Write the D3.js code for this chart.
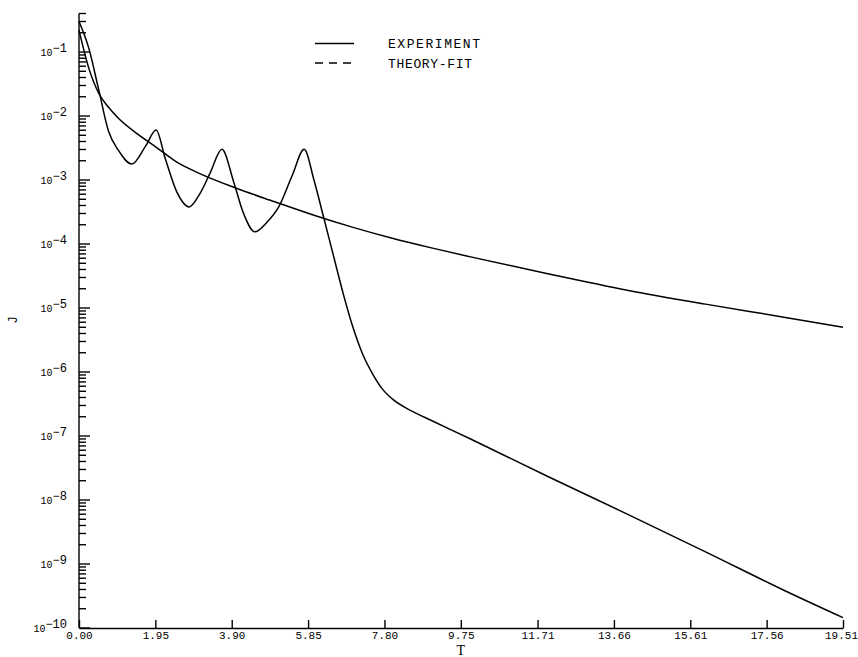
<!DOCTYPE html>
<html>
<head>
<meta charset="utf-8">
<script src="https://cdnjs.cloudflare.com/ajax/libs/d3/7.8.5/d3.min.js"></script>
<style>
  body { margin: 0; background: #fff; }
  svg { display: block; }
  .axis path, .axis line { stroke: #000; stroke-width: 1.4; }
  .axis text { font-family: "Liberation Mono", monospace; font-size: 11px; fill: #000; }
  .line { fill: none; stroke: #000; stroke-width: 1.5; }
</style>
</head>
<body>
<div id="chart"></div>
<script>
// experiment (oscillating curve)
var expT = [0, 0.25, 0.5, 0.75, 1.0, 1.35, 1.7, 1.97, 2.2, 2.5, 2.81, 3.1, 3.35, 3.65, 3.95, 4.2, 4.49, 4.8, 5.1, 5.45, 5.75,
    6.0, 6.25, 6.5, 6.75, 7.0, 7.25, 7.5, 7.75, 8.0, 8.5, 9.0, 10, 12, 14, 16, 18, 19.51]
var expJ = [3.0e-1, 1.15e-1, 2.63e-2, 5.89e-3, 2.95e-3, 1.78e-3, 3.39e-3, 6.03e-3, 2.19e-3, 6.46e-4, 3.80e-4, 6.31e-4, 1.29e-3,
    3.02e-3, 9.33e-4, 3.02e-4, 1.55e-4, 2.19e-4, 3.80e-4, 1.20e-3, 3.02e-3, 1.0e-3, 2.57e-4, 6.5e-5, 1.65e-5,
    4.9e-6, 1.86e-6, 9.3e-7, 5.4e-7, 3.8e-7, 2.45e-7, 1.75e-7, 8.97e-8, 2.29e-8, 6.03e-9, 1.55e-9, 3.89e-10, 1.45e-10]

// theory fit (smooth curve)
var fitT = [0, 0.25, 0.5, 0.75, 1.0, 1.5, 2.0, 2.5, 3.0, 4.0, 5.0, 6.0, 7.0, 8.0, 9.0, 10, 12, 14, 16, 18, 19.51]
var fitJ = [2.2e-1, 5.6e-2, 2.29e-2, 1.38e-2, 9.3e-3, 5.2e-3, 3.16e-3, 1.9e-3, 1.33e-3, 7.5e-4, 4.57e-4, 2.82e-4, 1.82e-4,
    1.23e-4, 8.7e-5, 6.3e-5, 3.4e-5, 1.9e-5, 1.15e-5, 7.2e-6, 5.0e-6]

var xTicks = [0, 1.95, 3.90, 5.85, 7.80, 9.75, 11.71, 13.66, 15.61, 17.56, 19.51]
var yExponents = [-1, -2, -3, -4, -5, -6, -7, -8, -9, -10]
var legendLabels = ['EXPERIMENT', 'THEORY-FIT']

var margin = { top: 13.5, right: 15, bottom: 29, left: 79 }
var W = 858, H = 657
var width = W - margin.left - margin.right
var height = H - margin.top - margin.bottom

var svg = d3.select('#chart').append('svg')
    .attr('width', W)
    .attr('height', H)
var g = svg.append('g')
    .attr('transform', 'translate(' + margin.left + ',' + margin.top + ')')

var x = d3.scaleLinear().domain([0, 19.51]).range([0, width])
var y = d3.scaleLog().domain([1e-10, 0.4]).range([height, 0])

// minor ticks on the log axis
var minor = []
for (var e = -10; e <= -1; e++) {
    for (var m = 2; m <= 9; m++) {
        var v = m * Math.pow(10, e)
        if (v <= 0.4 + 1e-9) minor.push(v)
    }
}
var major = yExponents.map(function(k) { return Math.pow(10, k) })

var yAxis = g.append('g').attr('class', 'axis')
yAxis.append('line')
    .attr('x1', 0).attr('x2', 0)
    .attr('y1', y(0.4)).attr('y2', y(1e-10))
yAxis.selectAll('line.minor')
    .data(minor)
    .enter().append('line')
    .attr('class', 'minor')
    .attr('x1', 0).attr('x2', 7)
    .attr('y1', function(d) { return y(d) })
    .attr('y2', function(d) { return y(d) })
yAxis.selectAll('line.major')
    .data(major)
    .enter().append('line')
    .attr('class', 'major')
    .attr('x1', 0).attr('x2', 11)
    .attr('y1', function(d) { return y(d) })
    .attr('y2', function(d) { return y(d) })

// power-of-ten labels
yExponents.forEach(function(k) {
    var t = yAxis.append('text')
        .attr('x', -12)
        .attr('y', y(Math.pow(10, k)) + 4)
        .attr('text-anchor', 'end')
    t.append('tspan').style('font-size', '10px').text('10')
    t.append('tspan').attr('dy', -4).style('font-size', '12px').text('\u2212' + Math.abs(k))
})

var xAxis = g.append('g')
    .attr('class', 'axis')
    .attr('transform', 'translate(0,' + height + ')')
    .call(d3.axisBottom(x).tickValues(xTicks).tickSizeInner(-8).tickSizeOuter(0).tickPadding(3)
        .tickFormat(d3.format('.2f')))
// last label sits against the page edge
xAxis.selectAll('.tick text').filter(function(d) { return d == 19.51 }).attr('dx', -2)

svg.append('text')
    .attr('x', margin.left + x(9.75))
    .attr('y', 655)
    .attr('text-anchor', 'middle')
    .style('font-family', 'Liberation Serif, serif')
    .style('font-size', '14px')
    .text('T')

svg.append('text')
    .attr('transform', 'translate(17,320) rotate(-90)')
    .attr('text-anchor', 'middle')
    .style('font-family', 'Liberation Mono, monospace')
    .style('font-size', '12px')
    .text('J')

var line = d3.line()
    .x(function(d) { return x(d[0]) })
    .y(function(d) { return y(d[1]) })
    .curve(d3.curveMonotoneX)

g.append('path')
    .datum(fitT.map(function(t, i) { return [t, fitJ[i]] }))
    .attr('class', 'line')
    .attr('d', line)

g.append('path')
    .datum(expT.map(function(t, i) { return [t, expJ[i]] }))
    .attr('class', 'line')
    .attr('d', line)

// legend
var leg = svg.append('g')
legendLabels.forEach(function(name, i) {
    var ly = 43.5 + i * 19.5
    leg.append('line')
        .attr('x1', 315).attr('x2', 354)
        .attr('y1', ly).attr('y2', ly)
        .attr('stroke', '#000')
        .attr('stroke-width', 1.3)
        .attr('stroke-dasharray', i == 1 ? '8,6' : null)
    leg.append('text')
        .attr('x', 388)
        .attr('y', ly + 4.5)
        .attr('textLength', i == 0 ? 92 : 84)
        .attr('lengthAdjust', 'spacing')
        .style('font-family', 'Liberation Mono, monospace')
        .style('font-size', '13px')
        .text(name)
})
</script>
</body>
</html>
